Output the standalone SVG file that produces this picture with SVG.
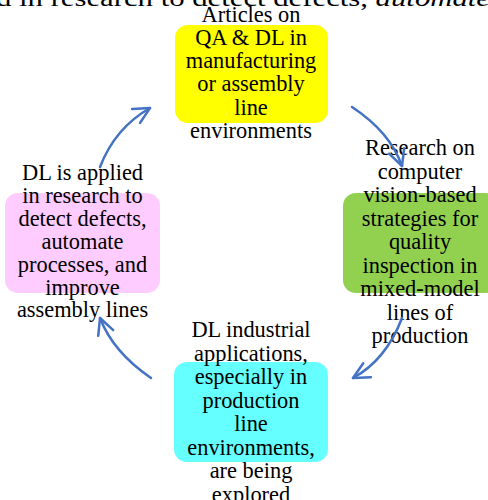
<svg xmlns="http://www.w3.org/2000/svg" width="488" height="500" viewBox="0 0 488 500">
  <style>
    .lbl { font-family: 'Liberation Serif', 'Times New Roman', Times, serif; font-size: 22.4px; fill: #000; text-anchor: middle; }
    .box { stroke: none; }
    .conn { fill: none; stroke: #4472C4; stroke-width: 2.5; stroke-linecap: round; }
  </style>
  <defs>
    <marker id="arrow" markerUnits="userSpaceOnUse" markerWidth="24" markerHeight="24" viewBox="-18 -12 24 24" refX="0" refY="0" orient="auto">
      <path d="M-16,-8 L0,0 L-16,8" fill="none" stroke="#4472C4" stroke-width="2.5" stroke-linecap="round" stroke-linejoin="round"/>
    </marker>
  </defs>

  <rect width="488" height="500" fill="#fff"/>

  <!-- running text of the page above, clipped by the top edge -->
  <text x="-4" y="6" font-family="'Liberation Serif', serif" font-size="24" textLength="494" lengthAdjust="spacingAndGlyphs" fill="#000">d in research to detect defects, <tspan font-style="italic">automate</tspan></text>

  <g id="node-articles">
    <rect class="box" x="175" y="25" width="153" height="98" rx="13" fill="#FFFF00"/>
    <text class="lbl" x="251" y="22">Articles on</text>
    <text class="lbl" x="251" y="45">QA &amp; DL in</text>
    <text class="lbl" x="251" y="68">manufacturing</text>
    <text class="lbl" x="251" y="91">or assembly</text>
    <text class="lbl" x="251" y="115">line</text>
    <text class="lbl" x="251" y="138">environments</text>
  </g>

  <g id="node-research">
    <rect class="box" x="343" y="193" width="155" height="100" rx="13" fill="#92D050"/>
    <text class="lbl" x="420" y="155">Research on</text>
    <text class="lbl" x="420" y="178.5">computer</text>
    <text class="lbl" x="420" y="202">vision-based</text>
    <text class="lbl" x="420" y="225.5">strategies for</text>
    <text class="lbl" x="420" y="249">quality</text>
    <text class="lbl" x="420" y="272.5">inspection in</text>
    <text class="lbl" x="420" y="296">mixed-model</text>
    <text class="lbl" x="420" y="319.5">lines of</text>
    <text class="lbl" x="420" y="343">production</text>
  </g>

  <g id="node-industrial">
    <rect class="box" x="174" y="362" width="154" height="100" rx="13" fill="#66FFFF"/>
    <text class="lbl" x="251" y="337">DL industrial</text>
    <text class="lbl" x="251" y="360.5">applications,</text>
    <text class="lbl" x="251" y="384">especially in</text>
    <text class="lbl" x="251" y="407.5">production</text>
    <text class="lbl" x="251" y="431">line</text>
    <text class="lbl" x="251" y="454.5">environments,</text>
    <text class="lbl" x="251" y="478">are being</text>
    <text class="lbl" x="251" y="501.5">explored</text>
  </g>

  <g id="node-applied">
    <rect class="box" x="5" y="193" width="155" height="100" rx="13" fill="#FFCCFF"/>
    <text class="lbl" x="82.5" y="180">DL is applied</text>
    <text class="lbl" x="82.5" y="203">in research to</text>
    <text class="lbl" x="82.5" y="226">detect defects,</text>
    <text class="lbl" x="82.5" y="249">automate</text>
    <text class="lbl" x="82.5" y="271.5">processes, and</text>
    <text class="lbl" x="82.5" y="294.5">improve</text>
    <text class="lbl" x="82.5" y="317">assembly lines</text>
  </g>

  <g id="connectors">
    <path class="conn" d="M100,167 Q115,128 150,108" marker-end="url(#arrow)"/>
    <path class="conn" d="M352,107 Q390,132 402,166" marker-end="url(#arrow)"/>
    <path class="conn" d="M402,318 Q386,360 353,378" marker-end="url(#arrow)"/>
    <path class="conn" d="M151,378 Q113,352 100,318" marker-end="url(#arrow)"/>
  </g>
</svg>
